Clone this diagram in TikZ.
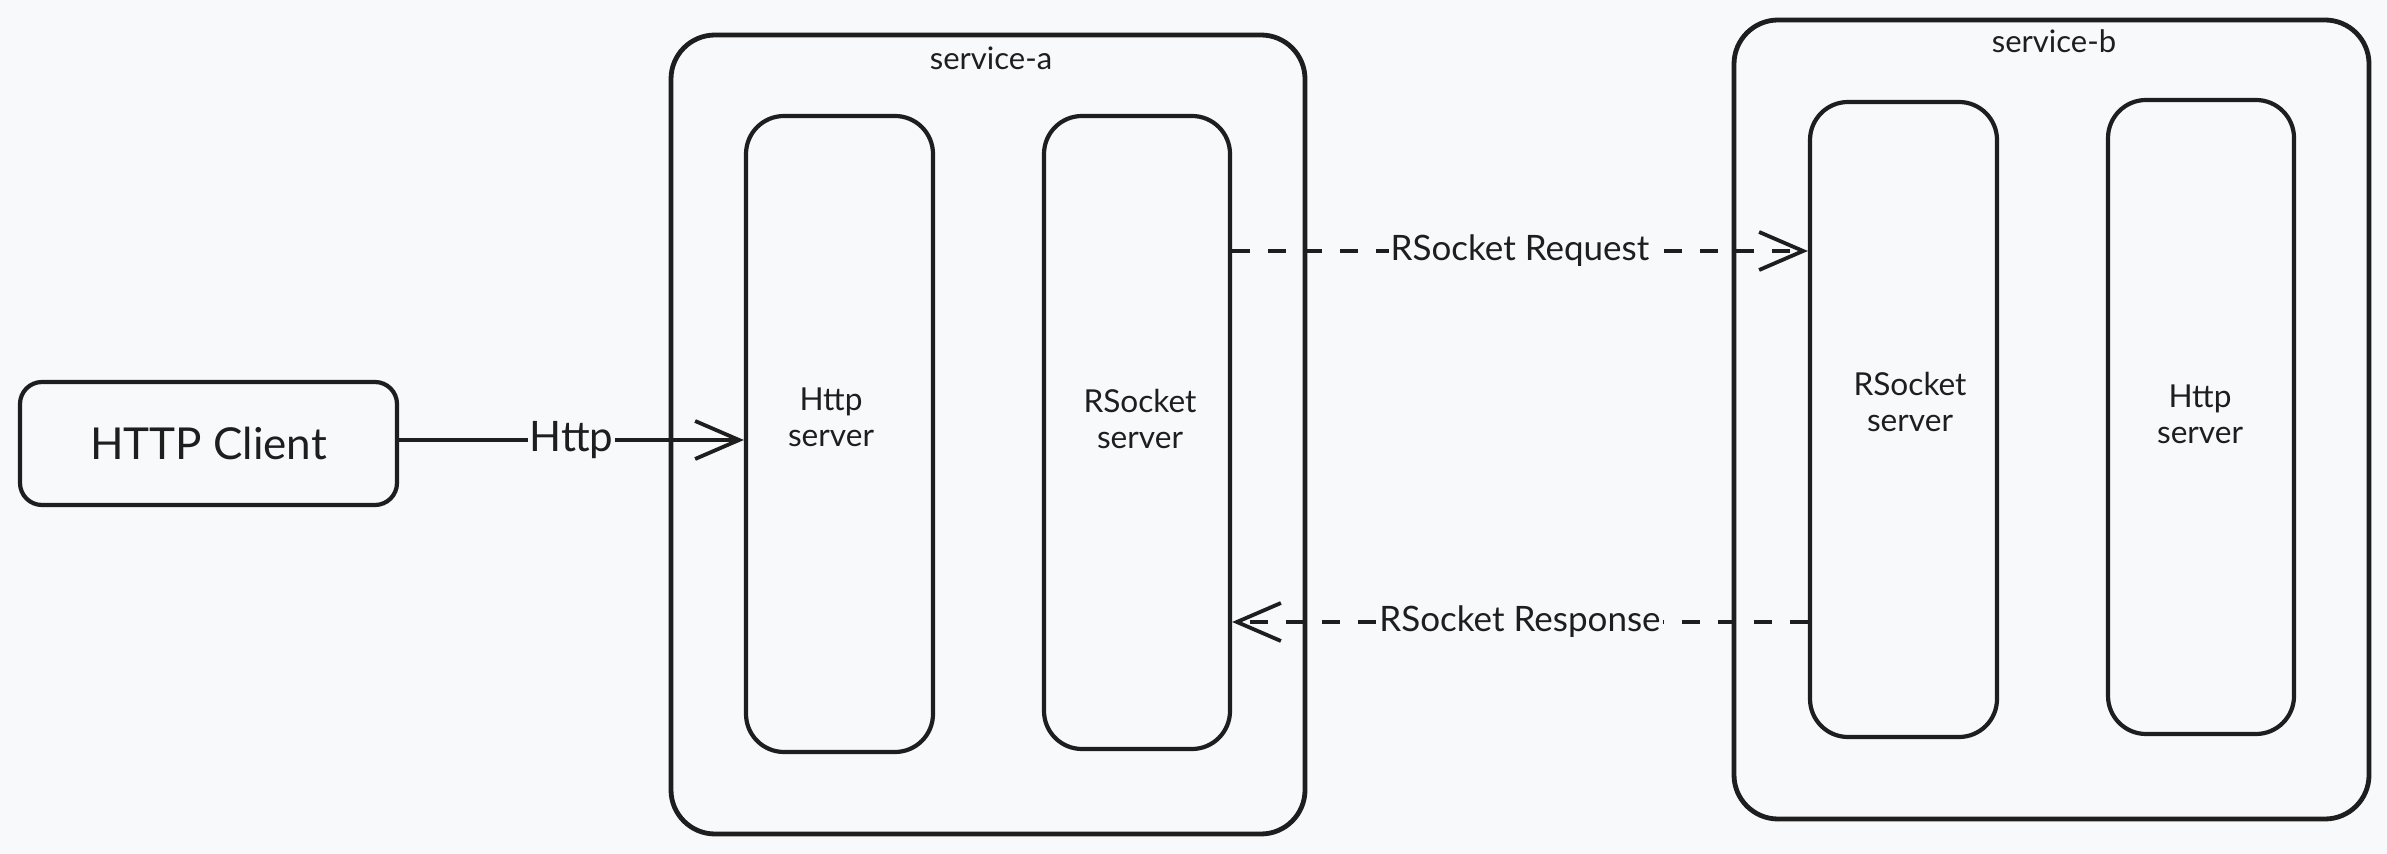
\documentclass[tikz,border=0pt]{standalone}
\usepackage{fontspec}
\setmainfont{Lato}
\usetikzlibrary{arrows.meta}
\definecolor{bg}{HTML}{F8F9FA}
\definecolor{ink}{HTML}{1E1E1E}
\tikzset{
  container/.style={draw=ink, line width=2.4pt, rounded corners=22pt, inner sep=0pt},
  inner box/.style={draw=ink, line width=2.1pt, rounded corners=19pt, inner sep=0pt},
  client box/.style={draw=ink, line width=2.1pt, rounded corners=11pt, inner sep=0pt},
  boxtext/.style={text=ink, font=\fontsize{15.8}{18}\selectfont, align=center},
  cont label/.style={text=ink, font=\fontsize{15.5}{17}\selectfont},
  conn/.style={draw=ink, line width=1.9pt, -{Straight Barb[length=22pt,width=19pt,line width=1.9pt]}},
  dashconn/.style={conn, dash pattern=on 9pt off 9pt},
  conn label/.style={fill=bg, text=ink, inner sep=1pt},
}
\begin{document}
\begin{tikzpicture}[x=0.5pt,y=-0.5pt]
\fill[bg] (0,0) rectangle (2387,854);
\useasboundingbox (0,0) rectangle (2387,854);
% containers
\node[container, minimum width=317pt, minimum height=399.5pt] (svcA) at (988,434.5) {};
\node[cont label] (svcAlbl) at (991,58) {service-a};
\node[container, minimum width=317.5pt, minimum height=399.5pt] (svcB) at (2051.5,419.5) {};
\node[cont label] (svcBlbl) at (2054,41) {service-b};
% inner boxes
\node[inner box, minimum width=93.5pt, minimum height=318pt] (httpA) at (839.5,434) {};
\node[boxtext] (httpAtxt) at (831,417) {Http\\server};
\node[inner box, minimum width=93pt, minimum height=316.5pt] (rsA) at (1137,432.5) {};
\node[boxtext] (rsAtxt) at (1140,419) {RSocket\\server};
\node[inner box, minimum width=93.5pt, minimum height=317.5pt] (rsB) at (1903.5,419.5) {};
\node[boxtext] (rsBtxt) at (1910,402) {RSocket\\server};
\node[inner box, minimum width=93pt, minimum height=317pt] (httpB) at (2201,417) {};
\node[boxtext] (httpBtxt) at (2200,414) {Http\\server};
% client
\node[client box, minimum width=188.5pt, minimum height=61.5pt, text=ink, font=\fontsize{22}{24}\selectfont] (client) at (208.5,443.5) {HTTP Client};
% connectors
\draw[conn] (client.east |- 0,440) -- node[conn label, font=\fontsize{21}{23}\selectfont] (httpLbl) {Http} (httpA.west |- 0,440);
\draw[dashconn] (rsA.east |- 0,251) -- node[conn label, font=\fontsize{17.5}{20}\selectfont] (reqLbl) {RSocket Request} (rsB.west |- 0,251);
\draw[dashconn] (rsB.west |- 0,622) -- node[conn label, font=\fontsize{17.5}{20}\selectfont] (respLbl) {RSocket Response} (rsA.east |- 0,622);
\end{tikzpicture}
\end{document}
